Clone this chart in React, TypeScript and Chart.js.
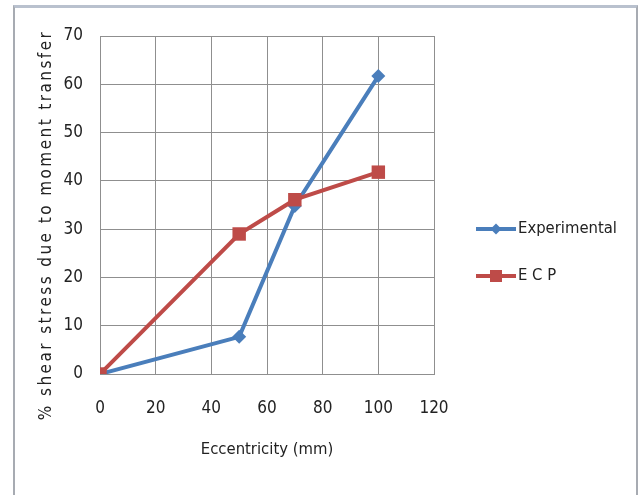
import React, { useEffect, useRef } from 'react';
import { Chart, registerables } from 'chart.js';

Chart.register(...registerables);

// ---- data ----
const eccentricity = [0, 50, 70, 100];
const experimental = [0, 7.7, 34.8, 61.7];
const ecp = [0, 29, 36.1, 41.8];
const seriesNames = ['Experimental', 'E C P'];
const xTitle = 'Eccentricity (mm)';
const yTitle = '% shear stress due to moment transfer';
const xMin = 0, xMax = 120, xStep = 20;
const yMin = 0, yMax = 70, yStep = 10;

const FONT = "'DejaVu Sans Condensed', 'DejaVu Sans', sans-serif";
const BLUE = '#4A7EBB';
const RED = '#BE4B48';
const TEXT = '#222222';
const GRID = '#8f8f8f';

function drawMarker(ctx: CanvasRenderingContext2D, style: string, x: number, y: number, r: number, color: string) {
  ctx.save();
  ctx.fillStyle = color;
  ctx.beginPath();
  if (style === 'rectRot') {
    ctx.moveTo(x, y - r);
    ctx.lineTo(x + r, y);
    ctx.lineTo(x, y + r);
    ctx.lineTo(x - r, y);
    ctx.closePath();
  } else {
    ctx.rect(x - r, y - r, 2 * r, 2 * r);
  }
  ctx.fill();
  ctx.restore();
}

const sideLegend = {
  id: 'sideLegend',
  afterDraw(chart: any) {
    const ctx: CanvasRenderingContext2D = chart.ctx;
    const order = [0, 1];
    const ys = [229, 276];
    order.forEach((di, i) => {
      const ds = chart.data.datasets[di];
      const y = ys[i];
      ctx.save();
      ctx.strokeStyle = ds.borderColor;
      ctx.lineWidth = 4;
      ctx.beginPath();
      ctx.moveTo(476, y);
      ctx.lineTo(516, y);
      ctx.stroke();
      drawMarker(ctx, ds.pointStyle, 496, y, ds.pointStyle === 'rect' ? 6 : 5.5, ds.backgroundColor);
      ctx.fillStyle = TEXT;
      ctx.font = `16.5px ${FONT}`;
      ctx.textBaseline = 'middle';
      ctx.textAlign = 'left';
      ctx.fillText(ds.label, 518, y);
      ctx.restore();
    });
  },
};

const yTitlePlugin = {
  id: 'yTitlePlugin',
  afterDraw(chart: any) {
    const ctx: CanvasRenderingContext2D = chart.ctx;
    ctx.save();
    ctx.font = `17px ${FONT}`;
    ctx.fillStyle = TEXT;
    const w = ctx.measureText(yTitle).width;
    const target = 388;
    const spacing = Math.max(0, (target - w) / (yTitle.length - 1));
    (ctx as any).letterSpacing = `${spacing}px`;
    ctx.translate(47, 225);
    ctx.rotate(-Math.PI / 2);
    ctx.textAlign = 'center';
    ctx.textBaseline = 'middle';
    ctx.fillText(yTitle, 0, 0);
    ctx.restore();
  },
};

export default function App() {
  const ref = useRef<HTMLCanvasElement>(null);
  useEffect(() => {
    if (!ref.current) return;
    const chart = new Chart(ref.current, {
      type: 'line',
      data: {
        datasets: [
          {
            label: seriesNames[0],
            data: eccentricity.map((x, i) => ({ x, y: experimental[i] })),
            borderColor: BLUE,
            backgroundColor: BLUE,
            borderWidth: 4,
            pointStyle: 'rectRot',
            pointRadius: 7,
            pointBorderWidth: 0,
            tension: 0,
            order: 2,
          },
          {
            label: seriesNames[1],
            data: eccentricity.map((x, i) => ({ x, y: ecp[i] })),
            borderColor: RED,
            backgroundColor: RED,
            borderWidth: 4,
            pointStyle: 'rect',
            pointRadius: 9.5,
            pointBorderWidth: 0,
            tension: 0,
            order: 1,
          },
        ],
      },
      options: {
        animation: false,
        responsive: false,
        maintainAspectRatio: false,
        layout: { padding: { left: 0, right: 207, top: 36, bottom: 31 } },
        plugins: { legend: { display: false }, tooltip: { enabled: false } },
        scales: {
          x: {
            type: 'linear',
            min: xMin,
            max: xMax,
            ticks: { stepSize: xStep, padding: 24, color: TEXT, font: { size: 17, family: FONT } },
            grid: { color: GRID, lineWidth: 1, drawTicks: false },
            border: { color: GRID, width: 1 },
            title: { display: true, text: xTitle, color: TEXT, font: { size: 16.5, family: FONT }, padding: { top: 0, bottom: 4 } },
            afterFit: (s: any) => { s.height = 90; },
          },
          y: {
            type: 'linear',
            min: yMin,
            max: yMax,
            ticks: { stepSize: yStep, padding: 17, color: TEXT, font: { size: 17, family: FONT } },
            grid: { color: GRID, lineWidth: 1, drawTicks: false },
            border: { color: GRID, width: 1 },
            afterFit: (s: any) => { s.width = 100; },
          },
        },
      },
      plugins: [sideLegend, yTitlePlugin],
    });
    return () => chart.destroy();
  }, []);

  return (
    <div style={{ position: 'fixed', left: 0, top: 0, width: 641, height: 495, overflow: 'hidden', background: '#fff' }}>
      <div
        style={{
          position: 'absolute',
          left: 13,
          top: 5,
          width: 625,
          height: 520,
          border: '2px solid #a7abb2',
          borderTop: '3px solid #b9c1ce',
          boxSizing: 'border-box',
        }}
      />
      <canvas ref={ref} width={641} height={495} style={{ position: 'absolute', left: 0, top: 0, width: 641, height: 495 }} />
    </div>
  );
}
